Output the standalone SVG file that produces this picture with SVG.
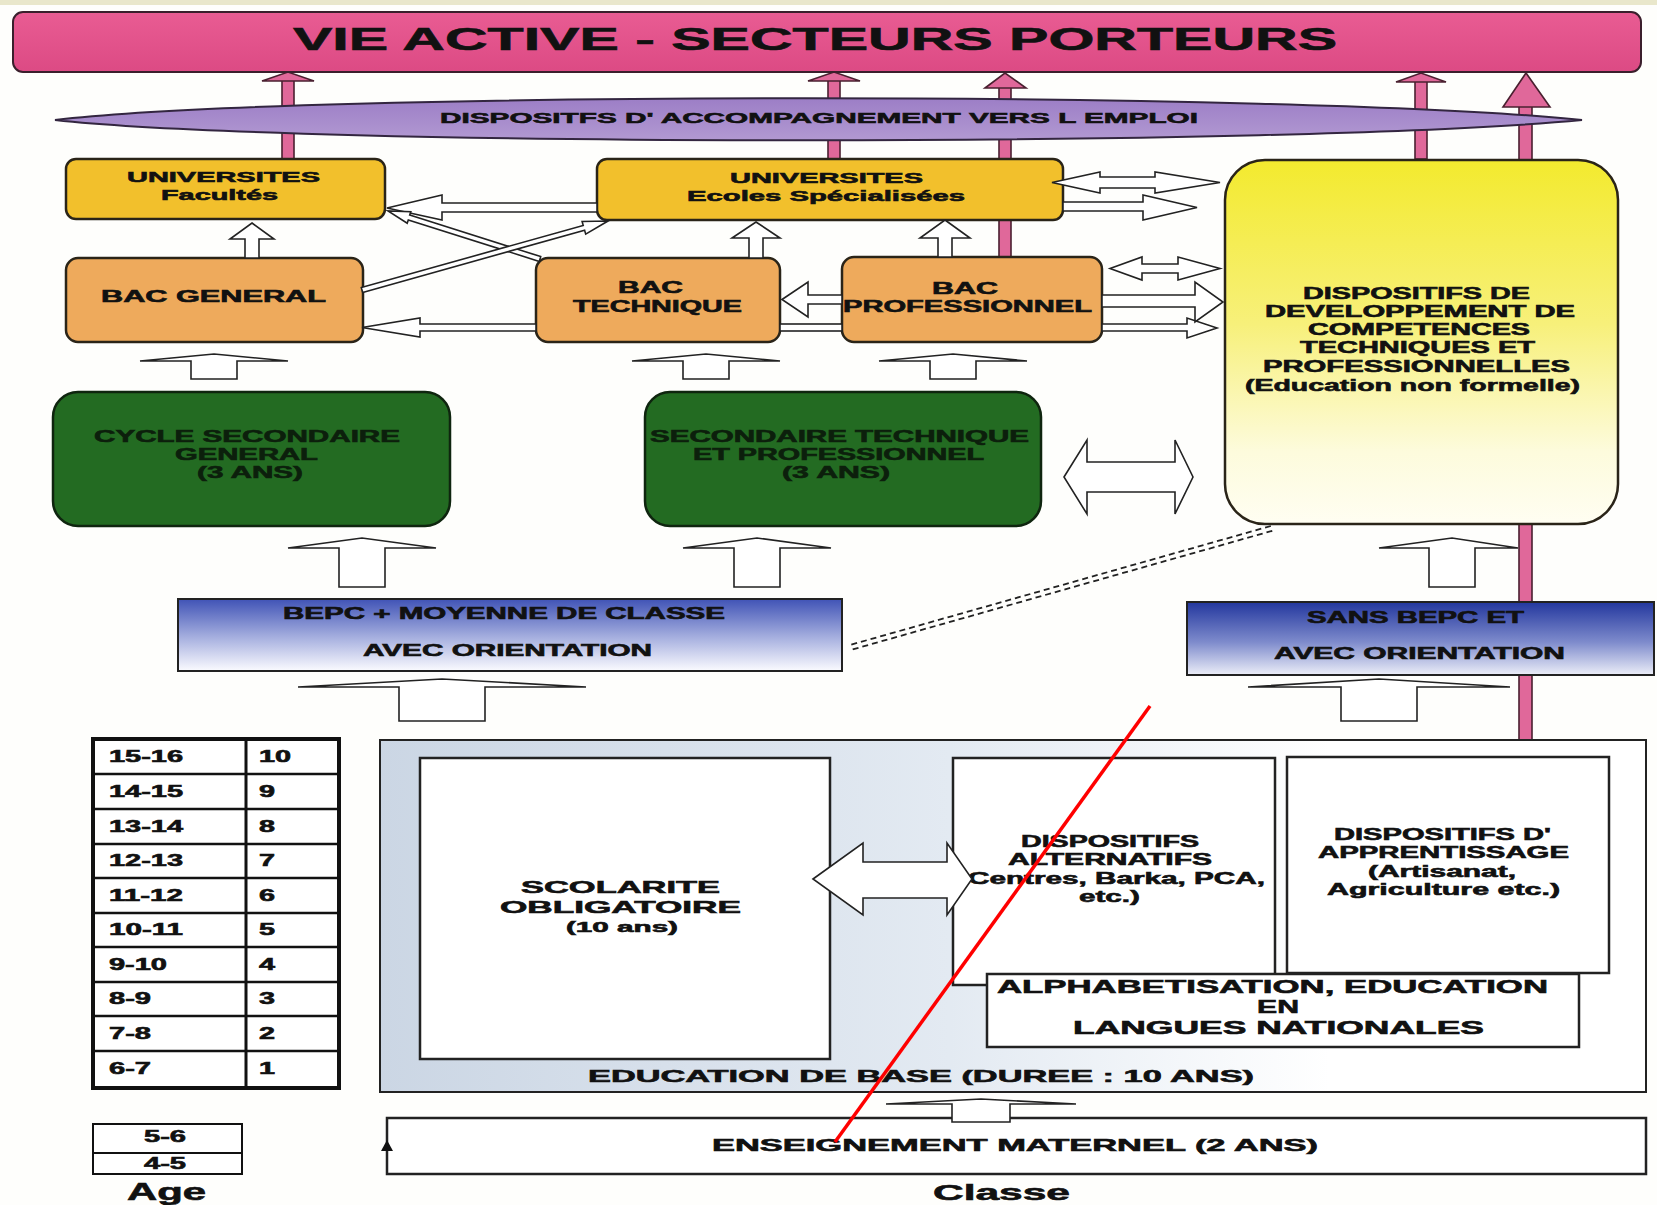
<svg xmlns="http://www.w3.org/2000/svg" width="1657" height="1205" viewBox="0 0 1657 1205">
<defs>
<style>
.t{font-family:"Liberation Sans",Arial,Helvetica,sans-serif;font-weight:bold;fill:#111;stroke:#111;stroke-width:0.6;}
.g{fill:#0c1f0c;stroke:#0c1f0c;}
.box{stroke:#2a2418;stroke-width:2.5;}
.ha{fill:#fff;stroke:#222;stroke-width:1.6;stroke-linejoin:miter;}
.pk{fill:#E0689A;stroke:#4a2030;stroke-width:1.6;}
.ln{fill:none;stroke:#111;}
</style>
<linearGradient id="hdr" x1="0" y1="0" x2="0" y2="1"><stop offset="0" stop-color="#E95C93"/><stop offset="1" stop-color="#DC4A84"/></linearGradient>
<linearGradient id="ell" x1="0" y1="0" x2="0" y2="1"><stop offset="0" stop-color="#9C7EC6"/><stop offset="1" stop-color="#B299D2"/></linearGradient>
<linearGradient id="yel" x1="0" y1="0" x2="0" y2="1"><stop offset="0" stop-color="#F3EA2E"/><stop offset="0.45" stop-color="#F7F07A"/><stop offset="0.8" stop-color="#FDFBDC"/><stop offset="1" stop-color="#FFFEF2"/></linearGradient>
<linearGradient id="blu1" x1="0" y1="0" x2="0" y2="1"><stop offset="0" stop-color="#4053B6"/><stop offset="0.55" stop-color="#A9B2E0"/><stop offset="1" stop-color="#FBFBFF"/></linearGradient>
<linearGradient id="blu2" x1="0" y1="0" x2="0" y2="1"><stop offset="0" stop-color="#23379E"/><stop offset="0.55" stop-color="#7E8BCC"/><stop offset="1" stop-color="#ECEEF8"/></linearGradient>
<linearGradient id="edu" x1="0" y1="0" x2="1" y2="0"><stop offset="0" stop-color="#CBD6E4"/><stop offset="0.45" stop-color="#E3EAF2"/><stop offset="0.75" stop-color="#FFFFFF"/></linearGradient>
</defs>
<rect x="0" y="0" width="1657" height="1205" fill="#FEFEFC"/>
<rect x="0" y="0" width="1657" height="5" fill="#E9E7CB"/>

<g id="connectors-back">
<rect class="pk" x="282" y="80" width="12" height="79"/>
<polygon class="pk" points="262,81 288,72 314,81"/>
<rect class="pk" x="828" y="80" width="12" height="79"/>
<polygon class="pk" points="808,81 834,72 860,81"/>
<rect class="pk" x="999" y="86" width="12" height="171"/>
<polygon class="pk" points="985,88 1005,73 1026,88"/>
<rect class="pk" x="1415" y="81" width="12" height="78"/>
<polygon class="pk" points="1396,82 1421,73 1446,82"/>
<rect class="pk" x="1519" y="105" width="13" height="652"/>
<polygon class="pk" points="1503,107 1526,73 1550,107"/>
</g>

<g id="node-header">
<rect x="13" y="12" width="1628" height="60" rx="10" fill="url(#hdr)" stroke="#3a1f2c" stroke-width="2"/>
<text class="t" x="293" y="50" font-size="31" stroke-width="1.2" textLength="1044" lengthAdjust="spacingAndGlyphs">VIE ACTIVE - SECTEURS PORTEURS</text>
</g>
<g id="node-accompagnement">
<path d="M55,120 C300,91 1300,91 1582,120 C1300,147 300,147 55,120 Z" fill="url(#ell)" stroke="#332640" stroke-width="2"/>
<text class="t" x="440" y="123" font-size="15.5" textLength="758" lengthAdjust="spacingAndGlyphs">DISPOSITFS D' ACCOMPAGNEMENT  VERS L EMPLOI</text>
</g>
<g id="node-univ-facultes">
<rect class="box" x="66" y="159" width="319" height="60" rx="10" fill="#F2C02C"/>
<text class="t" x="127" y="182" font-size="15" textLength="193" lengthAdjust="spacingAndGlyphs">UNIVERSITES</text>
<text class="t" x="161" y="200" font-size="15" textLength="117" lengthAdjust="spacingAndGlyphs">Facultés</text>
</g>
<g id="node-univ-ecoles">
<rect class="box" x="597" y="159" width="466" height="61" rx="10" fill="#F2C02C"/>
<text class="t" x="730" y="183" font-size="15" textLength="193" lengthAdjust="spacingAndGlyphs">UNIVERSITES</text>
<text class="t" x="687" y="201" font-size="15" textLength="278" lengthAdjust="spacingAndGlyphs">Ecoles Spécialisées</text>
</g>
<g id="node-bac-general">
<rect class="box" x="66" y="258" width="297" height="84" rx="12" fill="#EEAA5C"/>
<text class="t" x="101" y="302" font-size="16" textLength="225" lengthAdjust="spacingAndGlyphs">BAC  GENERAL</text>
</g>
<g id="node-bac-technique">
<rect class="box" x="536" y="258" width="244" height="84" rx="12" fill="#EEAA5C"/>
<text class="t" x="618" y="293" font-size="16" textLength="65" lengthAdjust="spacingAndGlyphs">BAC</text>
<text class="t" x="573" y="312" font-size="16" textLength="169" lengthAdjust="spacingAndGlyphs">TECHNIQUE</text>
</g>
<g id="node-bac-professionnel">
<rect class="box" x="842" y="257" width="260" height="85" rx="12" fill="#EEAA5C"/>
<text class="t" x="932" y="294" font-size="16" textLength="66" lengthAdjust="spacingAndGlyphs">BAC</text>
<text class="t" x="843" y="312" font-size="16" textLength="249" lengthAdjust="spacingAndGlyphs">PROFESSIONNEL</text>
</g>
<g id="node-competences">
<rect class="box" x="1225" y="160" width="393" height="364" rx="40" fill="url(#yel)"/>
<text class="t" x="1303" y="299" font-size="16" textLength="227" lengthAdjust="spacingAndGlyphs">DISPOSITIFS DE</text>
<text class="t" x="1265" y="317" font-size="16" textLength="310" lengthAdjust="spacingAndGlyphs">DEVELOPPEMENT  DE</text>
<text class="t" x="1308" y="335" font-size="16" textLength="222" lengthAdjust="spacingAndGlyphs">COMPETENCES</text>
<text class="t" x="1300" y="353" font-size="16" textLength="235" lengthAdjust="spacingAndGlyphs">TECHNIQUES ET</text>
<text class="t" x="1263" y="372" font-size="16" textLength="307" lengthAdjust="spacingAndGlyphs">PROFESSIONNELLES</text>
<text class="t" x="1245" y="391" font-size="16" textLength="335" lengthAdjust="spacingAndGlyphs">(Education non formelle)</text>
</g>
<g id="node-cycle-general">
<rect x="53" y="392" width="397" height="134" rx="25" fill="#236B22" stroke="#0f250f" stroke-width="2.5"/>
<text class="t g" x="94" y="442" font-size="16" textLength="306" lengthAdjust="spacingAndGlyphs">CYCLE SECONDAIRE</text>
<text class="t g" x="175" y="460" font-size="16" textLength="143" lengthAdjust="spacingAndGlyphs">GENERAL</text>
<text class="t g" x="197" y="478" font-size="16" textLength="106" lengthAdjust="spacingAndGlyphs">(3 ANS)</text>
</g>
<g id="node-secondaire-technique">
<rect x="645" y="392" width="396" height="134" rx="25" fill="#236B22" stroke="#0f250f" stroke-width="2.5"/>
<text class="t g" x="650" y="442" font-size="16" textLength="379" lengthAdjust="spacingAndGlyphs">SECONDAIRE TECHNIQUE</text>
<text class="t g" x="693" y="460" font-size="16" textLength="291" lengthAdjust="spacingAndGlyphs">ET PROFESSIONNEL</text>
<text class="t g" x="782" y="478" font-size="16" textLength="108" lengthAdjust="spacingAndGlyphs">(3 ANS)</text>
</g>
<g id="node-bepc">
<rect x="178" y="599" width="664" height="72" fill="url(#blu1)" stroke="#222" stroke-width="2"/>
<text class="t" x="283" y="619" font-size="16" textLength="442" lengthAdjust="spacingAndGlyphs">BEPC + MOYENNE DE CLASSE</text>
<text class="t" x="363" y="656" font-size="16" textLength="289" lengthAdjust="spacingAndGlyphs">AVEC ORIENTATION</text>
</g>
<g id="node-sans-bepc">
<rect x="1187" y="602" width="467" height="73" fill="url(#blu2)" stroke="#222" stroke-width="2"/>
<text class="t" x="1307" y="623" font-size="16" textLength="217" lengthAdjust="spacingAndGlyphs">SANS BEPC ET</text>
<text class="t" x="1274" y="659" font-size="16" textLength="291" lengthAdjust="spacingAndGlyphs">AVEC ORIENTATION</text>
</g>
<g id="node-age-table">
<rect x="93" y="739" width="246" height="349" fill="#fff" stroke="#111" stroke-width="4"/>
<line class="ln" x1="246" y1="739" x2="246" y2="1088" stroke-width="3"/>
<path class="ln" stroke-width="2.5" d="M93,774H339M93,809H339M93,844H339M93,878H339M93,913H339M93,947H339M93,982H339M93,1016H339M93,1051H339"/>
<g font-size="16">
<text class="t" x="109" y="762" textLength="74" lengthAdjust="spacingAndGlyphs">15-16</text>
<text class="t" x="109" y="797" textLength="74" lengthAdjust="spacingAndGlyphs">14-15</text>
<text class="t" x="109" y="832" textLength="74" lengthAdjust="spacingAndGlyphs">13-14</text>
<text class="t" x="109" y="866" textLength="74" lengthAdjust="spacingAndGlyphs">12-13</text>
<text class="t" x="109" y="901" textLength="74" lengthAdjust="spacingAndGlyphs">11-12</text>
<text class="t" x="109" y="935" textLength="74" lengthAdjust="spacingAndGlyphs">10-11</text>
<text class="t" x="109" y="970" textLength="58" lengthAdjust="spacingAndGlyphs">9-10</text>
<text class="t" x="109" y="1004" textLength="42" lengthAdjust="spacingAndGlyphs">8-9</text>
<text class="t" x="109" y="1039" textLength="42" lengthAdjust="spacingAndGlyphs">7-8</text>
<text class="t" x="109" y="1074" textLength="42" lengthAdjust="spacingAndGlyphs">6-7</text>
<text class="t" x="259" y="762" textLength="32" lengthAdjust="spacingAndGlyphs">10</text>
<text class="t" x="259" y="797" textLength="16" lengthAdjust="spacingAndGlyphs">9</text>
<text class="t" x="259" y="832" textLength="16" lengthAdjust="spacingAndGlyphs">8</text>
<text class="t" x="259" y="866" textLength="16" lengthAdjust="spacingAndGlyphs">7</text>
<text class="t" x="259" y="901" textLength="16" lengthAdjust="spacingAndGlyphs">6</text>
<text class="t" x="259" y="935" textLength="16" lengthAdjust="spacingAndGlyphs">5</text>
<text class="t" x="259" y="970" textLength="16" lengthAdjust="spacingAndGlyphs">4</text>
<text class="t" x="259" y="1004" textLength="16" lengthAdjust="spacingAndGlyphs">3</text>
<text class="t" x="259" y="1039" textLength="16" lengthAdjust="spacingAndGlyphs">2</text>
<text class="t" x="259" y="1074" textLength="16" lengthAdjust="spacingAndGlyphs">1</text>
</g>
</g>
<g id="node-age-maternel">
<rect x="93" y="1124" width="149" height="50" fill="#fff" stroke="#111" stroke-width="2"/>
<line class="ln" x1="93" y1="1153" x2="242" y2="1153" stroke-width="2"/>
<text class="t" x="144" y="1142" font-size="16" textLength="42" lengthAdjust="spacingAndGlyphs">5-6</text>
<text class="t" x="144" y="1169" font-size="16" textLength="42" lengthAdjust="spacingAndGlyphs">4-5</text>
<text class="t" x="127" y="1200" font-size="23" stroke-width="0.8" textLength="79" lengthAdjust="spacingAndGlyphs">Age</text>
</g>
<g id="node-education-base">
<rect x="380" y="740" width="1266" height="352" fill="url(#edu)" stroke="#222" stroke-width="2"/>
<text class="t" x="588" y="1082" font-size="17" textLength="666" lengthAdjust="spacingAndGlyphs">EDUCATION DE BASE (DUREE : 10 ANS)</text>
</g>
<g id="node-scolarite">
<rect x="420" y="758" width="410" height="301" fill="#fff" stroke="#222" stroke-width="2.5"/>
<text class="t" x="521" y="893" font-size="17" textLength="199" lengthAdjust="spacingAndGlyphs">SCOLARITE</text>
<text class="t" x="500" y="913" font-size="17" textLength="241" lengthAdjust="spacingAndGlyphs">OBLIGATOIRE</text>
<text class="t" x="566" y="932" font-size="15" textLength="112" lengthAdjust="spacingAndGlyphs">(10 ans)</text>
</g>
<g id="node-alternatifs">
<rect x="953" y="758" width="322" height="227" fill="#fff" stroke="#222" stroke-width="2.5"/>
<text class="t" x="1021" y="847" font-size="16" textLength="178" lengthAdjust="spacingAndGlyphs">DISPOSITIFS</text>
<text class="t" x="1008" y="865" font-size="16" textLength="204" lengthAdjust="spacingAndGlyphs">ALTERNATIFS</text>
<text class="t" x="968" y="884" font-size="16" textLength="297" lengthAdjust="spacingAndGlyphs">Centres, Barka, PCA,</text>
<text class="t" x="1079" y="902" font-size="16" textLength="61" lengthAdjust="spacingAndGlyphs">etc.)</text>
</g>
<g id="node-apprentissage">
<rect x="1287" y="757" width="322" height="216" fill="#fff" stroke="#222" stroke-width="2.5"/>
<text class="t" x="1334" y="840" font-size="16" textLength="217" lengthAdjust="spacingAndGlyphs">DISPOSITIFS D'</text>
<text class="t" x="1318" y="858" font-size="16" textLength="251" lengthAdjust="spacingAndGlyphs">APPRENTISSAGE</text>
<text class="t" x="1368" y="877" font-size="16" textLength="148" lengthAdjust="spacingAndGlyphs">(Artisanat,</text>
<text class="t" x="1327" y="895" font-size="16" textLength="233" lengthAdjust="spacingAndGlyphs">Agriculture  etc.)</text>
</g>
<g id="node-alphabetisation">
<rect x="987" y="974" width="592" height="73" fill="#fff" stroke="#222" stroke-width="2.5"/>
<text class="t" x="997" y="993" font-size="18" textLength="551" lengthAdjust="spacingAndGlyphs">ALPHABETISATION, EDUCATION</text>
<text class="t" x="1257" y="1013" font-size="18" textLength="42" lengthAdjust="spacingAndGlyphs">EN</text>
<text class="t" x="1073" y="1034" font-size="18" textLength="411" lengthAdjust="spacingAndGlyphs">LANGUES  NATIONALES</text>
</g>
<g id="node-maternel">
<rect x="387" y="1118" width="1259" height="56" fill="#fff" stroke="#222" stroke-width="2.5"/>
<polygon points="387,1140 393,1151 381,1151" fill="#111"/>
<text class="t" x="712" y="1151" font-size="17" textLength="606" lengthAdjust="spacingAndGlyphs">ENSEIGNEMENT MATERNEL (2 ANS)</text>
<text class="t" x="933" y="1200" font-size="22" stroke-width="0.8" textLength="137" lengthAdjust="spacingAndGlyphs">Classe</text>
</g>

<g id="connectors">
<polygon class="ha" points="140,361 214,354 288,361 237,361 237,379 191,379 191,361"/>
<polygon class="ha" points="632,361 706,354 780,361 729,361 729,379 683,379 683,361"/>
<polygon class="ha" points="879,361 953,354 1027,361 976,361 976,379 930,379 930,361"/>
<polygon class="ha" points="288,548 362,538 436,548 385,548 385,587 339,587 339,548"/>
<polygon class="ha" points="683,548 757,538 831,548 780,548 780,587 734,587 734,548"/>
<polygon class="ha" points="1379,548 1452,538 1518,548 1475,548 1475,587 1429,587 1429,548"/>
<polygon class="ha" points="298,687 442,679 586,687 485,687 485,721 399,721 399,687"/>
<polygon class="ha" points="1248,687 1379,679 1510,687 1417,687 1417,721 1341,721 1341,687"/>
<polygon class="ha" points="886,1104 981,1099 1076,1104 1010,1104 1010,1122 952,1122 952,1104"/>
<polygon class="ha" points="252,223 274,239 259,239 259,258 245,258 245,239 230,239"/>
<polygon class="ha" points="756,222 780,238 763,238 763,258 749,258 749,238 732,238"/>
<polygon class="ha" points="945,220 970,238 952,238 952,257 938,257 938,238 920,238"/>
<polygon class="ha" points="387,208 442,195 442,203 597,203 597,212 442,212 442,220"/>
<polygon class="ha" points="362,327.5 420,318 420,324 536,324 536,331 420,331 420,337"/>
<rect class="ha" x="780" y="324" width="62" height="7"/>
<polygon class="ha" points="1102,324 1187,324 1187,318 1217,328 1187,338 1187,331 1102,331"/>
<polygon class="ha" points="782,299.5 808,282 808,295 842,295 842,304 808,304 808,317"/>
<polygon class="ha" points="1102,295 1195,295 1195,282 1223,302 1195,322 1195,307 1102,307"/>
<polygon class="ha" points="1110,268.5 1142,257 1142,264 1178,264 1178,257 1220,268.5 1178,280 1178,273 1142,273 1142,280"/>
<polygon class="ha" points="1063,202 1143,202 1143,195 1197,207.5 1143,220 1143,211 1063,211"/>
<polygon class="ha" points="1052,182.5 1100,172 1100,177 1155,177 1155,172 1220,182.5 1155,193 1155,188 1100,188 1100,193"/>
<polygon class="ha" points="540.7,256.6 409.7,215.1 410.8,211.8 388,211 407.2,223.2 408.3,219.9 539.3,261.4"/>
<polygon class="ha" points="362.7,292.4 584.6,230.2 585.7,234.1 608,221 582.1,221.5 583.2,225.4 361.3,287.6"/>
<polygon class="ha" points="1064,477 1087,440 1087,462 1175,462 1175,440 1193,477 1175,514 1175,492 1087,492 1087,514"/>
<polygon class="ha" points="813,879 863,843 863,862 947,862 947,843 972,879 947,915 947,898 863,898 863,915"/>
<g fill="none" stroke="#222" stroke-width="1.8" stroke-dasharray="6 4">
<line x1="852.7" y1="649.4" x2="1273.7" y2="530.4"/>
<line x1="851.3" y1="644.6" x2="1272.3" y2="525.6"/>
</g>
</g>

<line x1="1150" y1="706" x2="835" y2="1142" stroke="#FF0000" stroke-width="3.5"/>
</svg>
